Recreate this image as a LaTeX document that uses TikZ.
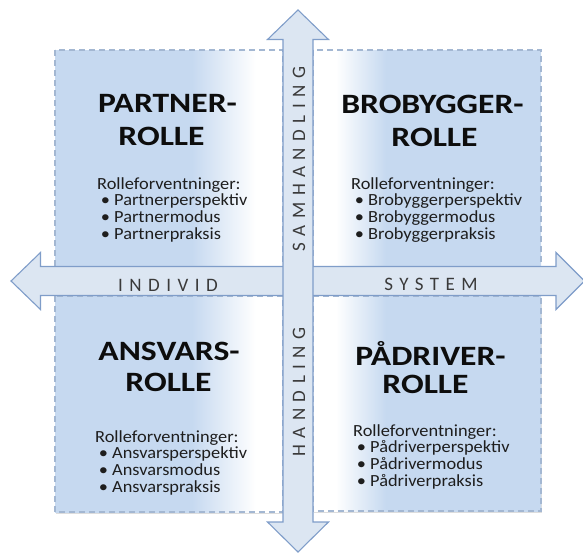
\documentclass[tikz,border=0pt]{standalone}
\usepackage{fontspec}
\setmainfont{Carlito}
\usepackage{graphicx}
\usetikzlibrary{shadows}
\definecolor{qblue}{HTML}{C6D9F0}
\definecolor{arrfill}{HTML}{DCE6F2}
\definecolor{arrline}{HTML}{7F9DC9}
\definecolor{boxline}{HTML}{A3B7D2}
\definecolor{bodytext}{HTML}{1E1E1E}
\definecolor{labeltext}{HTML}{3A3A3A}
\pgfdeclarehorizontalshading{leftbox}{100bp}{color(0bp)=(qblue); color(25bp)=(qblue); color(55bp)=(qblue); color(69bp)=(white); color(100bp)=(white)}
\pgfdeclarehorizontalshading{rightbox}{100bp}{color(0bp)=(white); color(25bp)=(white); color(30bp)=(white); color(41bp)=(qblue); color(100bp)=(qblue)}
\newcommand\bodyline[1]{\scalebox{1.08}[1]{#1}}
\newcommand\rolebody[4]{%
  \node[body] (#1h) at (#2,#3) {\bodyline{Rolleforventninger:}};
  \node[body] (#1a) at (#2,#3+16.9) {\bodyline{\makebox[15.7pt][l]{\hspace{3.5pt}•}#4perspektiv}};
  \node[body] (#1b) at (#2,#3+33.8) {\bodyline{\makebox[15.7pt][l]{\hspace{3.5pt}•}#4modus}};
  \node[body] (#1c) at (#2,#3+50.7) {\bodyline{\makebox[15.7pt][l]{\hspace{3.5pt}•}#4praksis}};
}
\begin{document}
\begin{tikzpicture}[x=1pt,y=-1pt,
  quad/.style={draw=boxline, line width=1.3pt, dash pattern=on 6pt off 4pt, shade},
  lowshadow/.style={drop shadow={opacity=0.22, fill=black!60, shadow xshift=1pt, shadow yshift=-1.6pt}},
  arrowshape/.style={fill=arrfill, draw=arrline, line width=1.1pt, line join=miter},
  title/.style={font=\fontsize{28}{30}\selectfont\bfseries, text=black!95, inner sep=0pt, anchor=base},
  body/.style={font=\fontsize{17}{18}\selectfont, text=bodytext, inner sep=0pt, anchor=base west},
  axislabel/.style={font=\fontsize{19}{20}\selectfont\addfontfeature{LetterSpace=34}, text=labeltext, inner sep=0pt, anchor=base}]
\useasboundingbox (0,0) rectangle (583,554);
% quadrant boxes
\path[quad, shading=leftbox] (55,50) rectangle (283,267);
\path[quad, shading=rightbox] (313,50) rectangle (541,267);
\path[quad, lowshadow, shading=leftbox] (55,296) rectangle (283,512);
\path[quad, lowshadow, shading=rightbox] (313,296) rectangle (541,511);
% horizontal arrow
\draw[arrowshape] (11,281) -- (40.5,252.5) -- (40.5,266.5) -- (556,266.5) -- (556,252.5)
  -- (584.5,281) -- (556,309.5) -- (556,295.5) -- (40.5,295.5) -- (40.5,309.5) -- cycle;
% vertical arrow
\draw[arrowshape] (298,10) -- (328.5,39.5) -- (313,39.5) -- (313,522) -- (328.5,522)
  -- (298,552) -- (267.5,522) -- (283,522) -- (283,39.5) -- (267.5,39.5) -- cycle;
% axis labels
\node[axislabel] (individ) at (168,291) {INDIVID};
\node[axislabel] (system) at (431,290) {SYSTEM};
\node[axislabel, rotate=90] (samh) at (305,159) {SAMHANDLING};
\node[axislabel, rotate=90] (handl) at (305,392) {HANDLING};
% titles
\node[title] (t1a) at (167.5,112) {\scalebox{1.2}[1]{PARTNER-}};
\node[title] (t1b) at (161.5,145) {\scalebox{1.2}[1]{ROLLE}};
\node[title] (t2a) at (432.5,113) {\scalebox{1.2}[1]{BROBYGGER-}};
\node[title] (t2b) at (434.5,146) {\scalebox{1.2}[1]{ROLLE}};
\node[title] (t3a) at (169,360) {\scalebox{1.2}[1]{ANSVARS-}};
\node[title] (t3b) at (168.5,391) {\scalebox{1.2}[1]{ROLLE}};
\node[title] (t4a) at (430.5,365) {\scalebox{1.2}[1]{PÅDRIVER-}};
\node[title] (t4b) at (425.5,393) {\scalebox{1.2}[1]{ROLLE}};
% bodies
\rolebody{p}{97}{189}{Partner}
\rolebody{b}{351}{189}{Brobygger}
\rolebody{a}{95}{442}{Ansvars}
\rolebody{d}{353}{436}{Pådriver}
\end{tikzpicture}
\end{document}
